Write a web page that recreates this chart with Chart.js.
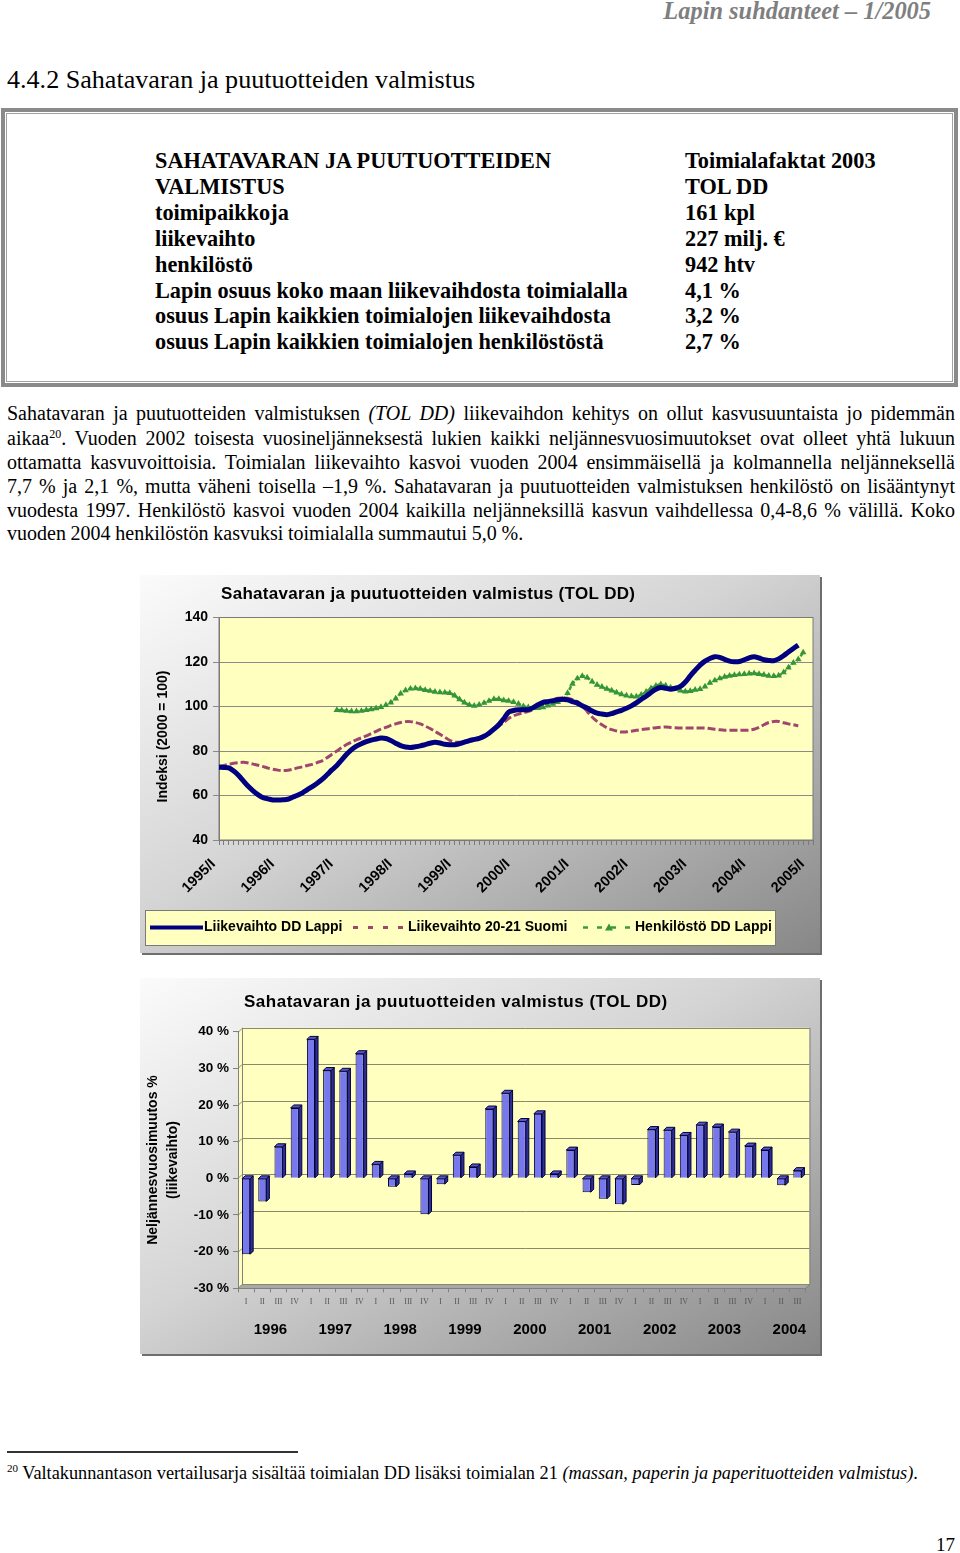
<!DOCTYPE html>
<html><head><meta charset="utf-8">
<script src="https://cdn.jsdelivr.net/npm/chart.js@4.4.0/dist/chart.umd.min.js"></script>
<style>
html,body{margin:0;padding:0;background:#fff;}
body{width:960px;height:1553px;position:relative;overflow:hidden;font-family:"Liberation Serif","Times New Roman",serif;color:#000;}
.abs{position:absolute;white-space:nowrap;}
#hdr{right:29px;top:-3px;font:italic bold 24.4px "Liberation Serif",serif;color:#7f7f7f;line-height:28px;}
#h2{left:7px;top:66px;font-size:26.1px;line-height:28px;}
#box{position:absolute;left:1px;top:108px;width:957px;height:279px;box-sizing:border-box;border:4px solid #8a8a8a;}
#boxin{position:absolute;left:1px;top:1px;right:1px;bottom:1px;border:1px solid #a0a0a0;}
.bcol{position:absolute;top:148px;font-weight:bold;font-size:22.3px;line-height:25.9px;white-space:nowrap;}
.pl{position:absolute;left:7px;width:948px;font-size:20px;line-height:24px;height:24px;text-align:justify;text-align-last:justify;white-space:normal;overflow:visible;word-spacing:-0.3px;}
.pl.last{text-align-last:left;}
sup{font-size:12px;line-height:0;vertical-align:7px;}
.cbox{position:absolute;background:linear-gradient(to bottom right,#fbfbfb 0%,#d4d4d4 45%,#878787 100%);box-shadow:2px 2px 0 #6e6e6e;}
.cbox canvas{display:block;}
#fnline{position:absolute;left:7px;top:1451px;width:291px;height:1.5px;background:#333;}
#fn{left:7px;top:1461px;font-size:18.3px;line-height:24px;}
#fn sup{font-size:11px;vertical-align:7px;}
#pg{left:936px;top:1533px;font-size:19px;line-height:24px;}
</style>
</head>
<body>
<div id="hdr" class="abs">Lapin suhdanteet – 1/2005</div>
<div id="h2" class="abs">4.4.2 Sahatavaran ja puutuotteiden valmistus</div>
<div id="box"><div id="boxin"></div></div>
<div class="bcol" style="left:155px">SAHATAVARAN JA PUUTUOTTEIDEN<br>VALMISTUS<br>toimipaikkoja<br>liikevaihto<br>henkilöstö<br>Lapin osuus koko maan liikevaihdosta toimialalla<br>osuus Lapin kaikkien toimialojen liikevaihdosta<br>osuus Lapin kaikkien toimialojen henkilöstöstä</div>
<div class="bcol" style="left:685px">Toimialafaktat 2003<br>TOL DD<br>161 kpl<br>227 milj. €<br>942 htv<br>4,1 %<br>3,2 %<br>2,7 %</div>

<div class="pl" style="top:401px">Sahatavaran ja puutuotteiden valmistuksen <i>(TOL DD)</i> liikevaihdon kehitys on ollut kasvusuuntaista jo pidemmän</div>
<div class="pl" style="top:426px">aikaa<sup>20</sup>. Vuoden 2002 toisesta vuosineljänneksestä lukien kaikki neljännesvuosimuutokset ovat olleet yhtä lukuun</div>
<div class="pl" style="top:450px">ottamatta kasvuvoittoisia. Toimialan liikevaihto kasvoi vuoden 2004 ensimmäisellä ja kolmannella neljänneksellä</div>
<div class="pl" style="top:474px">7,7 % ja 2,1 %, mutta väheni toisella –1,9 %. Sahatavaran ja puutuotteiden valmistuksen henkilöstö on lisääntynyt</div>
<div class="pl" style="top:497.5px">vuodesta 1997. Henkilöstö kasvoi vuoden 2004 kaikilla neljänneksillä kasvun vaihdellessa 0,4-8,6 % välillä. Koko</div>
<div class="pl last" style="top:520.5px">vuoden 2004 henkilöstön kasvuksi toimialalla summautui 5,0 %.</div>

<div class="cbox" style="left:140px;top:575px;width:680px;height:378px"><canvas id="c1" width="680" height="378"></canvas></div>
<div class="cbox" style="left:140px;top:978px;width:680px;height:376px"><canvas id="c2" width="680" height="376"></canvas></div>

<div id="fnline"></div>
<div id="fn" class="abs"><sup>20</sup> Valtakunnantason vertailusarja sisältää toimialan DD lisäksi toimialan 21 <i>(massan, paperin ja paperituotteiden valmistus)</i>.</div>
<div id="pg" class="abs">17</div>

<script>
// ---------- Chart 1 data (monthly trend indices, 2000 = 100) ----------
const years = ['1995','1996','1997','1998','1999','2000','2001','2002','2003','2004','2005'];
const monthNumerals = ['I','II','III','IV','V','VI','VII','VIII','IX','X','XI','XII'];
const monthLabels = [];
years.forEach(y => monthNumerals.forEach(m => monthLabels.push(y + '/' + m)));
const categories = monthLabels.slice(0, 122); // 1995/I ... 2005/II

const liikevaihtoLappi = [
  72.7, 72.6, 72.4, 71.0, 69.0, 66.5, 64.0, 62.0, 60.3, 59.0, 58.5, 58.0,
  58.0, 58.1, 58.3, 59.2, 60.1, 61.2, 62.6, 64.0, 65.5, 67.2, 69.3, 71.5,
  73.5, 76.0, 78.5, 80.6, 82.2, 83.3, 84.2, 84.9, 85.4, 85.8, 85.6, 84.7,
  83.5, 82.4, 81.8, 81.6, 81.9, 82.3, 82.9, 83.5, 83.9, 83.6, 83.0, 82.8,
  82.8, 83.3, 84.0, 84.7, 85.2, 85.7, 86.6, 88.0, 89.8, 91.8, 94.5, 97.5,
  98.2, 98.5, 98.5, 98.6, 99.5, 100.8, 101.8, 102.2, 102.6, 103.0, 103.3, 103.0,
  102.2, 101.5, 100.3, 99.3, 98.0, 97.0, 96.6, 96.3, 96.8, 97.6, 98.3, 99.2,
  100.3, 101.6, 103.2, 104.6, 106.3, 107.8, 108.5, 108.2, 107.8, 108.2, 109.0, 111.0,
  113.8, 116.3, 118.6, 120.4, 121.6, 122.4, 122.1, 121.2, 120.4, 120.1, 120.2, 121.0,
  121.9, 122.4, 121.8, 121.0, 120.7, 120.6, 121.4, 122.8, 124.5, 126.1, 127.6
];
const liikevaihtoSuomi = [
  73.1, 73.5, 74.0, 74.5, 74.8, 74.9, 74.6, 74.1, 73.6, 73.0, 72.3, 71.8,
  71.4, 71.2, 71.3, 71.8, 72.4, 72.9, 73.5, 74.0, 74.8, 75.6, 77.0, 78.5,
  80.0, 81.5, 82.9, 84.0, 85.0, 85.9, 86.8, 87.8, 88.8, 89.8, 90.6, 91.5,
  92.2, 92.8, 93.2, 93.2, 92.8, 92.2, 91.2, 90.1, 88.8, 87.5, 86.2, 84.8,
  84.0, 83.9, 84.0, 84.4, 85.2, 86.0, 87.0, 88.3, 89.8, 91.2, 92.8, 94.6,
  95.8, 96.6, 97.2, 97.8, 98.6, 99.7, 100.7, 101.8, 102.9, 103.7, 103.8, 103.7,
  103.1, 102.2, 100.3, 97.8, 95.3, 93.3, 91.8, 90.5, 89.6, 89.0, 88.5, 88.6,
  88.9, 89.3, 89.6, 89.9, 90.2, 90.5, 90.7, 90.8, 90.6, 90.4, 90.3, 90.3,
  90.3, 90.3, 90.3, 90.3, 90.1, 89.8, 89.5, 89.3, 89.3, 89.3, 89.3, 89.3,
  89.4, 89.8, 90.6, 91.8, 92.8, 93.3, 93.3, 92.7, 92.2, 91.8, 91.3
];
const henkilostoStart = '1997/I';
const henkilostoLappi = [
  98.4, 98.3, 98.0, 97.8, 97.8, 98.0, 98.4, 98.7, 99.2, 99.7, 100.6, 101.8,
  103.6, 105.8, 107.3, 108.0, 108.2, 107.9, 107.4, 107.0, 106.6, 106.4, 106.3, 106.0,
  104.9, 103.2, 101.8, 100.6, 100.3, 100.8, 101.6, 102.5, 103.3, 103.3, 102.8, 102.5,
  102.0, 101.2, 100.1, 99.6, 99.3, 99.3, 99.6, 100.4, 101.2, 102.0, 103.0, 106.0,
  110.2, 112.6, 113.7, 113.0, 111.2, 109.7, 108.8, 107.9, 107.2, 106.3, 105.5, 104.9,
  104.6, 104.5, 105.3, 106.6, 108.2, 109.3, 110.0, 109.4, 108.5, 107.8, 107.1, 106.7,
  106.9, 107.5, 107.8, 109.0, 110.6, 111.7, 112.6, 113.3, 113.8, 114.1, 114.4, 114.6,
  114.8, 114.9, 114.6, 114.2, 113.8, 113.7, 113.9, 115.3, 117.5, 119.6, 121.2, 124.3
];
const yTicks1 = [40, 60, 80, 100, 120, 140];
const chart1Title = 'Sahatavaran ja puutuotteiden valmistus (TOL DD)';
const chart1YTitle = 'Indeksi (2000 = 100)';
const seriesNames = ['Liikevaihto DD Lappi', 'Liikevaihto 20-21 Suomi', 'Henkilöstö DD Lappi'];

// ---------- Chart 2 data (quarterly change %, turnover) ----------
const quarterYears = ['1996','1997','1998','1999','2000','2001','2002','2003','2004'];
const quarterNumerals = ['I','II','III','IV'];
const quarterLabels = [];
quarterYears.forEach(y => quarterNumerals.forEach(q => quarterLabels.push(y + '/' + q)));
const quarterCats = quarterLabels.slice(0, 35); // 1996/I ... 2004/III
const neljannesMuutos = [
  -20.7, -6.3, 8.6, 19.2,
  37.9, 29.4, 29.2, 34.0,
  3.8, -2.3, 1.2, -9.8,
  -1.6, 6.3, 3.1, 18.9,
  23.2, 15.5, 17.6, 1.2,
  7.7, -3.8, -5.6, -7.1,
  -1.8, 13.3, 13.1, 11.7,
  14.5, 14.0, 12.6, 8.8,
  7.7, -1.9, 2.1
];
const chart2Title = 'Sahatavaran ja puutuotteiden valmistus (TOL DD)';
const chart2YTitle = ['Neljännesvuosimuutos %', '(liikevaihto)'];

// ---------- helpers ----------
const SANS = '"Liberation Sans", Arial, sans-serif';
const YELLOW = '#FFFFC0';
const henkData = categories.map((c, i) => {
  const s = categories.indexOf(henkilostoStart);
  return (i >= s && i - s < henkilostoLappi.length) ? henkilostoLappi[i - s] : null;
});

// ---------- Chart 1 ----------
const chart1Deco = {
  id: 'chart1Deco',
  beforeDraw(chart) {
    const {ctx, chartArea: a} = chart;
    ctx.save();
    ctx.fillStyle = YELLOW;
    ctx.fillRect(a.left, a.top, a.right - a.left, a.bottom - a.top);
    ctx.restore();
  },
  beforeDatasetsDraw(chart) {
    const {ctx, chartArea: a} = chart;
    ctx.save();
    ctx.strokeStyle = '#7a7a7a';
    ctx.lineWidth = 1;
    ctx.strokeRect(a.left, a.top, a.right - a.left, a.bottom - a.top);
    ctx.restore();
  },
  afterDraw(chart) {
    const ctx = chart.ctx;
    ctx.save();
    ctx.font = 'bold 17px ' + SANS;
    ctx.letterSpacing = '0.3px';
    ctx.fillStyle = '#000';
    ctx.textAlign = 'left';
    ctx.textBaseline = 'middle';
    ctx.fillText(chart1Title, 81, 19);
    ctx.letterSpacing = '0px';
    // legend
    const lx = 5.5, ly = 335.5, lw = 630, lh = 35, cy = 352.5;
    ctx.fillStyle = YELLOW;
    ctx.fillRect(lx, ly, lw, lh);
    ctx.strokeStyle = '#7a7a7a';
    ctx.lineWidth = 1;
    ctx.strokeRect(lx, ly, lw, lh);
    const ds = chart.data.datasets;
    ctx.strokeStyle = ds[0].borderColor; ctx.lineWidth = 4; ctx.setLineDash([]);
    ctx.beginPath(); ctx.moveTo(10, cy); ctx.lineTo(63, cy); ctx.stroke();
    ctx.strokeStyle = ds[1].borderColor; ctx.lineWidth = 3; ctx.setLineDash([5, 10]);
    ctx.beginPath(); ctx.moveTo(213, cy); ctx.lineTo(266, cy); ctx.stroke();
    ctx.strokeStyle = ds[2].borderColor; ctx.lineWidth = 2.5; ctx.setLineDash([5, 9]);
    ctx.beginPath(); ctx.moveTo(443, cy); ctx.lineTo(494, cy); ctx.stroke();
    ctx.setLineDash([]);
    ctx.fillStyle = ds[2].pointBackgroundColor;
    ctx.beginPath(); ctx.moveTo(469, cy - 4); ctx.lineTo(473, cy + 3); ctx.lineTo(465, cy + 3); ctx.closePath(); ctx.fill();
    ctx.fillStyle = '#000';
    ctx.font = 'bold 14px ' + SANS;
    ctx.fillText(seriesNames[0], 64, cy);
    ctx.fillText(seriesNames[1], 268, cy);
    ctx.fillText(seriesNames[2], 495, cy);
    ctx.restore();
  }
};

new Chart(document.getElementById('c1'), {
  type: 'line',
  data: {
    labels: categories,
    datasets: [
      { label: seriesNames[0], data: liikevaihtoLappi, borderColor: '#000080', borderWidth: 5,
        pointRadius: 0, tension: 0.3, fill: false, order: 1 },
      { label: seriesNames[1], data: liikevaihtoSuomi, borderColor: '#A0466E', borderWidth: 3,
        borderDash: [8, 3], pointRadius: 0, tension: 0.3, fill: false, order: 3 },
      { label: seriesNames[2], data: henkData, borderColor: '#3C9A3C', borderWidth: 2.5,
        borderDash: [4, 2], pointStyle: 'triangle', pointRadius: 3.8, pointBorderWidth: 0,
        pointBackgroundColor: '#34963A', tension: 0.3, fill: false, order: 2 }
    ]
  },
  options: {
    responsive: false, animation: false, devicePixelRatio: 1,
    layout: { padding: { left: 0, top: 42.5, right: 7, bottom: 0 } },
    plugins: { legend: { display: false }, tooltip: { enabled: false }, title: { display: false } },
    scales: {
      x: {
        type: 'category',
        afterFit: s => { s.height = 113; s.paddingRight = 0; s.paddingLeft = 0; },
        grid: { drawOnChartArea: false, drawTicks: true, tickLength: 5, color: '#7a7a7a' },
        border: { display: true, color: '#7a7a7a' },
        ticks: {
          autoSkip: false, maxRotation: 45, minRotation: 45, padding: 5,
          font: { family: SANS, size: 14.5, weight: 'bold' }, color: '#000',
          callback: (v, i) => (i % 12 === 0 ? categories[i] + '  ' : '')
        }
      },
      y: {
        min: 40, max: 140,
        afterFit: s => { s.width = 79; },
        afterBuildTicks: s => { s.ticks = yTicks1.map(v => ({ value: v })); },
        grid: { color: '#8a8a8a', lineWidth: 1, drawTicks: true, tickLength: 6 },
        border: { display: true, color: '#7a7a7a' },
        ticks: { font: { family: SANS, size: 14, weight: 'bold' }, color: '#000', padding: 5 },
        title: { display: true, text: chart1YTitle + '    ', color: '#000',
                 font: { family: SANS, size: 14, weight: 'bold' }, padding: { top: 14.6, bottom: 0 } }
      }
    }
  },
  plugins: [chart1Deco]
});

// ---------- Chart 2 ----------
const DEPTH = 4;
const chart2Deco = {
  id: 'chart2Deco',
  beforeDraw(chart) {
    const {ctx, chartArea: a, scales: {y}} = chart;
    const d = DEPTH;
    ctx.save();
    ctx.fillStyle = YELLOW;
    ctx.beginPath();
    ctx.moveTo(a.left, a.top); ctx.lineTo(a.left + d, a.top - d); ctx.lineTo(a.right + d, a.top - d);
    ctx.lineTo(a.right + d, a.bottom - d); ctx.lineTo(a.left, a.bottom); ctx.closePath(); ctx.fill();
    ctx.fillStyle = '#a8a8a8';
    ctx.beginPath();
    ctx.moveTo(a.left, a.bottom); ctx.lineTo(a.left + d, a.bottom - d); ctx.lineTo(a.right + d, a.bottom - d);
    ctx.lineTo(a.right, a.bottom); ctx.closePath(); ctx.fill();
    ctx.strokeStyle = '#8a8a6a';
    ctx.lineWidth = 1;
    y.ticks.forEach(t => {
      const py = Math.round(y.getPixelForValue(t.value)) + 0.5;
      ctx.beginPath();
      ctx.moveTo(a.left, py); ctx.lineTo(a.left + d, py - d); ctx.lineTo(a.right + d, py - d);
      ctx.stroke();
    });
    ctx.strokeStyle = '#808080';
    ctx.beginPath();
    ctx.moveTo(a.left + d + 0.5, a.top - d); ctx.lineTo(a.left + d + 0.5, a.bottom - d);
    ctx.moveTo(a.right + d + 0.5, a.top - d); ctx.lineTo(a.right + d + 0.5, a.bottom - d); ctx.lineTo(a.right, a.bottom);
    ctx.stroke();
    ctx.restore();
  },
  afterDatasetsDraw(chart) {
    const ctx = chart.ctx;
    const meta = chart.getDatasetMeta(0);
    const dd = 3;
    ctx.save();
    ctx.lineWidth = 1;
    ctx.strokeStyle = '#00003A';
    meta.data.forEach(bar => {
      const p = bar.getProps(['x', 'y', 'base', 'width'], true);
      const l = p.x - p.width / 2, r = p.x + p.width / 2;
      const top = Math.min(p.y, p.base), bot = Math.max(p.y, p.base);
      ctx.fillStyle = '#2E2E96';
      ctx.beginPath();
      ctx.moveTo(r, top); ctx.lineTo(r + dd, top - dd); ctx.lineTo(r + dd, bot - dd); ctx.lineTo(r, bot); ctx.closePath();
      ctx.fill(); ctx.stroke();
      ctx.fillStyle = '#5656C8';
      ctx.beginPath();
      ctx.moveTo(l, top); ctx.lineTo(l + dd, top - dd); ctx.lineTo(r + dd, top - dd); ctx.lineTo(r, top); ctx.closePath();
      ctx.fill(); ctx.stroke();
    });
    ctx.restore();
  },
  afterDraw(chart) {
    const {ctx, scales: {x}} = chart;
    ctx.save();
    ctx.fillStyle = '#000';
    ctx.textBaseline = 'middle';
    ctx.textAlign = 'left';
    ctx.font = 'bold 17px ' + SANS;
    ctx.letterSpacing = '0.5px';
    ctx.fillText(chart2Title, 104, 24);
    ctx.letterSpacing = '0px';
    ctx.textAlign = 'center';
    ctx.font = 'bold 15px ' + SANS;
    quarterYears.forEach((yr, k) => {
      const i0 = k * 4;
      const cx = (x.getPixelForValue(i0) + x.getPixelForValue(i0 + 3)) / 2;
      ctx.fillText(yr, cx, 352);
    });
    ctx.restore();
  }
};

new Chart(document.getElementById('c2'), {
  type: 'bar',
  data: {
    labels: quarterCats,
    datasets: [{
      label: 'Neljännesvuosimuutos', data: neljannesMuutos,
      backgroundColor: '#7878EE', borderColor: '#00003A', borderWidth: 1,
      barPercentage: 0.5, categoryPercentage: 1.0
    }]
  },
  options: {
    responsive: false, animation: false, devicePixelRatio: 1,
    layout: { padding: { left: 0, top: 53.7, right: 14.5, bottom: 0 } },
    plugins: { legend: { display: false }, tooltip: { enabled: false }, title: { display: false } },
    scales: {
      x: {
        type: 'category', offset: true,
        afterFit: s => { s.height = 65.7; s.paddingRight = 0; s.paddingLeft = 0; },
        grid: { drawOnChartArea: false, drawTicks: true, tickLength: 4, color: '#808080', offset: true },
        border: { display: true, color: '#808080' },
        ticks: {
          autoSkip: false, maxRotation: 0, minRotation: 0, padding: 5,
          font: { family: '"Liberation Serif", serif', size: 8 }, color: '#555',
          callback: (v, i) => quarterCats[i].split('/')[1]
        }
      },
      y: {
        min: -30, max: 40,
        afterFit: s => { s.width = 98; },
        grid: { drawOnChartArea: false, drawTicks: true, tickLength: 5, color: '#808080' },
        border: { display: true, color: '#808080' },
        ticks: { stepSize: 10, padding: 4, color: '#000',
                 font: { family: SANS, size: 13.5, weight: 'bold' }, callback: v => v + ' %' },
        title: { display: true, text: chart2YTitle, color: '#000',
                 font: { family: SANS, size: 14, weight: 'bold', lineHeight: 1.43 }, padding: { top: 3, bottom: 0 } }
      }
    }
  },
  plugins: [chart2Deco]
});
</script>
</body></html>
